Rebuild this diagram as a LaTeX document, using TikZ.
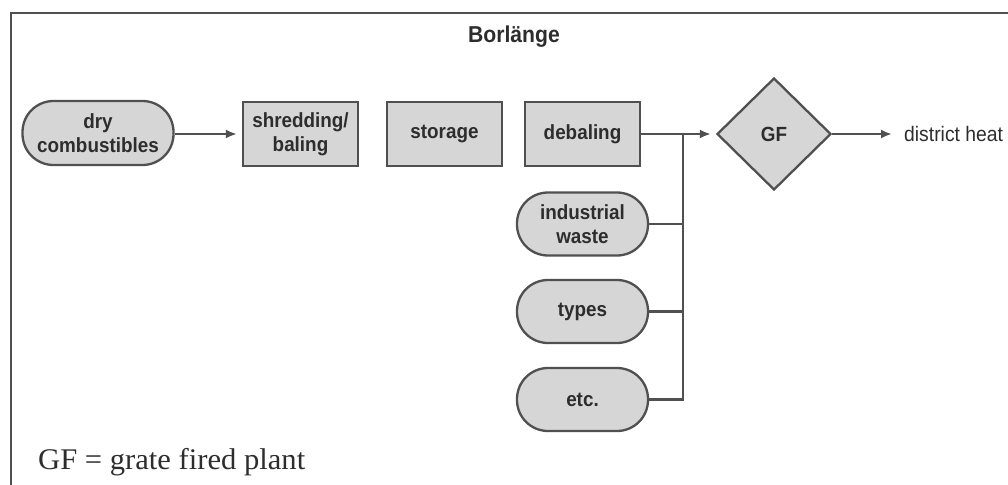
\documentclass[tikz,border=0pt]{standalone}
\usepackage{fontspec}
\setmainfont{Liberation Serif}
\setsansfont{Liberation Sans}
\newfontfamily\labelfont[FakeStretch=0.92]{Liberation Sans}
\newfontfamily\notefont[FakeStretch=1.02]{Liberation Serif}
\usetikzlibrary{arrows.meta,shapes.geometric}
\definecolor{boxfill}{RGB}{214,214,214}
\definecolor{edge}{RGB}{80,80,80}
\definecolor{ink}{RGB}{45,45,45}
\tikzset{
  lbl/.style={font=\labelfont\bfseries\fontsize{20.5}{23.5}\selectfont, text=ink, align=center, inner sep=0pt},
  pill/.style={lbl, draw=edge, line width=2.3pt, fill=boxfill, rounded corners=31pt},
  stepbox/.style={lbl, draw=edge, line width=2.3pt, fill=boxfill, minimum width=115pt, minimum height=64pt},
  plant/.style={lbl, shape=diamond, draw=edge, line width=2.3pt, fill=boxfill, minimum width=114pt, minimum height=112pt},
  flow/.style={draw=edge, line width=2.3pt},
  arr/.style={flow, -{Latex[length=11pt,width=9pt]}}
}
\begin{document}
\begin{tikzpicture}[x=1pt,y=-1pt]
  \useasboundingbox (0,0) rectangle (1008,484);
  % frame (runs off the right and bottom edges)
  \draw[edge, line width=2.4pt] (11,490) -- (11,13) -- (1015,13);

  \node[font=\labelfont\bfseries\fontsize{23}{24}\selectfont, text=ink] (title) at (514,37) {Borlänge};

  \node[pill, minimum width=151pt, minimum height=64pt] (dry) at (98,133) {dry\\combustibles};
  \node[stepbox] (shred) at (300.5,134) {shredding/\\baling};
  \node[stepbox] (store) at (444.5,134) {storage};
  \node[stepbox] (debal) at (582.5,134) {debaling};
  \node[plant] (gf) at (774,134) {GF};
  \node[font=\labelfont\fontsize{21}{21}\selectfont, text=ink, anchor=west, inner sep=0pt] (heat) at (904,134) {district heat};

  \node[pill, minimum width=131pt, minimum height=63pt] (iw) at (582.5,224) {industrial\\waste};
  \node[pill, minimum width=131pt, minimum height=63pt] (types) at (582.5,311.5) {types};
  \node[pill, minimum width=131pt, minimum height=63pt] (etc) at (582.5,399.5) {etc.};

  \coordinate (j) at (683,134);

  \draw[arr, shorten >=5pt] (dry.east |- shred.west) -- (shred.west);
  \draw[flow] (debal.east) -- (j);
  \draw[arr, shorten >=5pt] (j) -- (gf.west);
  \draw[flow] (j) -- (j |- etc.east) -- (etc.east);
  \draw[flow] (iw.east) -- (j |- iw.east);
  \draw[flow] (types.east) -- (j |- types.east);
  \draw[arr, shorten >=12pt] (gf.east) -- (heat.west);

  \node[font=\notefont\fontsize{30}{32}\selectfont, text=ink, anchor=base west, inner sep=0pt] (note) at (38,469) {GF = grate fired plant};
\end{tikzpicture}
\end{document}
